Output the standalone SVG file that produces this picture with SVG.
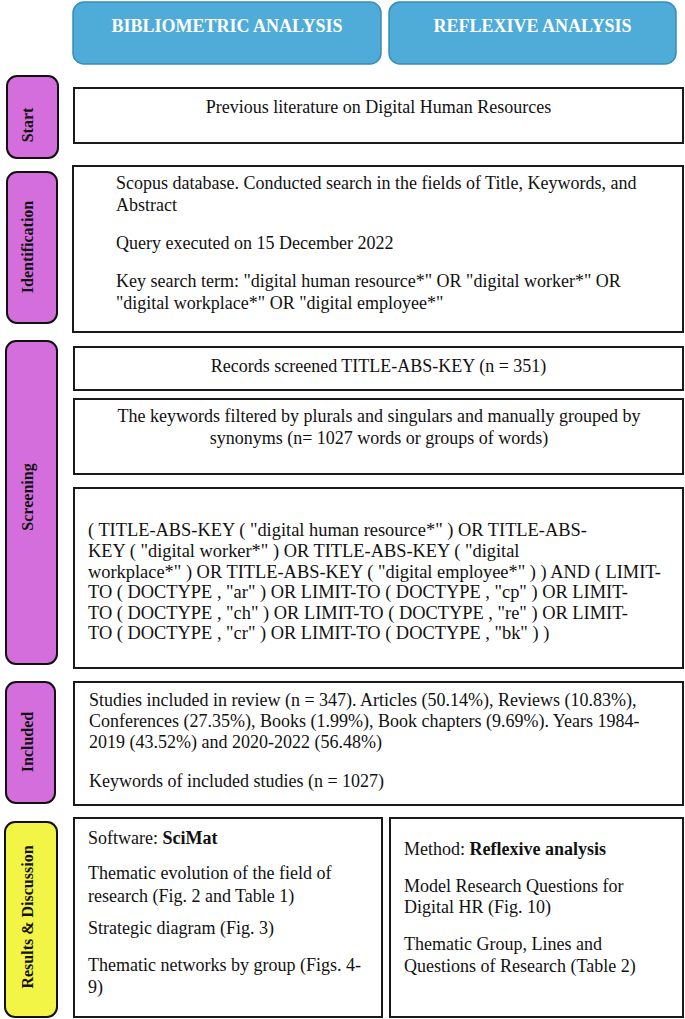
<svg xmlns="http://www.w3.org/2000/svg" width="685" height="1019" viewBox="0 0 685 1019">
<style>
.hdr{fill:#4FABD8;stroke:#3A8DB8;stroke-width:1.5}
.hdrt{font-family:"Liberation Serif",serif;font-size:18px;font-weight:bold;fill:#ffffff;text-anchor:middle}
.pill{fill:#D46EDC;stroke:#111;stroke-width:2}
.pilly{fill:#F2F545;stroke:#111;stroke-width:2}
.pt{font-family:"Liberation Serif",serif;font-size:16px;font-weight:bold;fill:#111;text-anchor:middle}
.box{fill:#ffffff;stroke:#1a1a1a;stroke-width:2}
.t{font-family:"Liberation Serif",serif;font-size:18px;fill:#111}
.q{font-size:18.4px}
.c{text-anchor:middle}
.b{font-weight:bold}
</style>
<rect width="685" height="1019" fill="#ffffff"/>
<g id="hdr-bibliometric">
<rect class="hdr" x="73" y="2" width="308" height="62" rx="11"/>
<text class="hdrt" x="227" y="32">BIBLIOMETRIC ANALYSIS</text>
</g>
<g id="hdr-reflexive">
<rect class="hdr" x="389" y="2" width="287" height="62" rx="11"/>
<text class="hdrt" x="532.5" y="32">REFLEXIVE ANALYSIS</text>
</g>
<g id="stage-start">
<rect class="pill" x="7" y="76" width="51" height="82" rx="10"/>
<text class="pt" transform="translate(33,125) rotate(-90)">Start</text>
</g>
<g id="stage-identification">
<rect class="pill" x="7" y="172" width="50" height="151" rx="10"/>
<text class="pt" transform="translate(33,247) rotate(-90)">Identification</text>
</g>
<g id="stage-screening">
<rect class="pill" x="6" y="341" width="51" height="323" rx="10"/>
<text class="pt" transform="translate(33,497) rotate(-90)">Screening</text>
</g>
<g id="stage-included">
<rect class="pill" x="6" y="682" width="49" height="121" rx="10"/>
<text class="pt" transform="translate(33,742) rotate(-90)">Included</text>
</g>
<g id="stage-results">
<rect class="pilly" x="5" y="822" width="52" height="195" rx="10"/>
<text class="pt" transform="translate(33,917) rotate(-90)">Results &amp; Discussion</text>
</g>
<g id="box-start">
<rect class="box" x="74" y="88" width="609" height="55"/>
<text class="t c" x="378.5" y="113">Previous literature on Digital Human Resources</text>
</g>
<g id="box-identification">
<rect class="box" x="73" y="166" width="610" height="166"/>
<text class="t" x="116" y="189">Scopus database. Conducted search in the fields of Title, Keywords, and</text>
<text class="t" x="116" y="211">Abstract</text>
<text class="t" x="116" y="249">Query executed on 15 December 2022</text>
<text class="t" x="116" y="287">Key search term: "digital human resource*" OR "digital worker*" OR</text>
<text class="t" x="116" y="309">"digital workplace*" OR "digital employee*"</text>
</g>
<g id="box-records">
<rect class="box" x="74" y="347" width="609" height="43"/>
<text class="t c" x="378.5" y="372">Records screened TITLE-ABS-KEY (n = 351)</text>
</g>
<g id="box-keywords">
<rect class="box" x="74" y="399" width="609" height="75"/>
<text class="t c" x="379" y="422">The keywords filtered by plurals and singulars and manually grouped by</text>
<text class="t c" x="379" y="444">synonyms (n= 1027 words or groups of words)</text>
</g>
<g id="box-query">
<rect class="box" x="74" y="488" width="609" height="180"/>
<text class="t q" x="88" y="536">( TITLE-ABS-KEY ( "digital human resource*" ) OR TITLE-ABS-</text>
<text class="t q" x="88" y="557">KEY ( "digital worker*" ) OR TITLE-ABS-KEY ( "digital</text>
<text class="t q" x="88" y="578">workplace*" ) OR TITLE-ABS-KEY ( "digital employee*" ) ) AND ( LIMIT-</text>
<text class="t q" x="88" y="598">TO ( DOCTYPE , "ar" ) OR LIMIT-TO ( DOCTYPE , "cp" ) OR LIMIT-</text>
<text class="t q" x="88" y="619">TO ( DOCTYPE , "ch" ) OR LIMIT-TO ( DOCTYPE , "re" ) OR LIMIT-</text>
<text class="t q" x="88" y="639">TO ( DOCTYPE , "cr" ) OR LIMIT-TO ( DOCTYPE , "bk" ) )</text>
</g>
<g id="box-included">
<rect class="box" x="74" y="682" width="609" height="123"/>
<text class="t" x="89" y="706">Studies included in review (n = 347). Articles (50.14%), Reviews (10.83%),</text>
<text class="t" x="89" y="727">Conferences (27.35%), Books (1.99%), Book chapters (9.69%). Years 1984-</text>
<text class="t" x="89" y="748">2019 (43.52%) and 2020-2022 (56.48%)</text>
<text class="t" x="89" y="787">Keywords of included studies (n = 1027)</text>
</g>
<g id="box-bibliometric-results">
<rect class="box" x="74" y="818" width="308" height="199"/>
<text class="t" x="88" y="844">Software: <tspan class="b">SciMat</tspan></text>
<text class="t" x="88" y="879">Thematic evolution of the field of</text>
<text class="t" x="88" y="902">research (Fig. 2 and Table 1)</text>
<text class="t" x="88" y="934">Strategic diagram (Fig. 3)</text>
<text class="t" x="88" y="971">Thematic networks by group (Figs. 4-</text>
<text class="t" x="88" y="993">9)</text>
</g>
<g id="box-reflexive-results">
<rect class="box" x="390" y="818" width="293" height="199"/>
<text class="t" x="404" y="855">Method: <tspan class="b">Reflexive analysis</tspan></text>
<text class="t" x="404" y="892">Model Research Questions for</text>
<text class="t" x="404" y="913">Digital HR (Fig. 10)</text>
<text class="t" x="404" y="950">Thematic Group, Lines and</text>
<text class="t" x="404" y="972">Questions of Research (Table 2)</text>
</g>
<g id="connectors"/>
</svg>
